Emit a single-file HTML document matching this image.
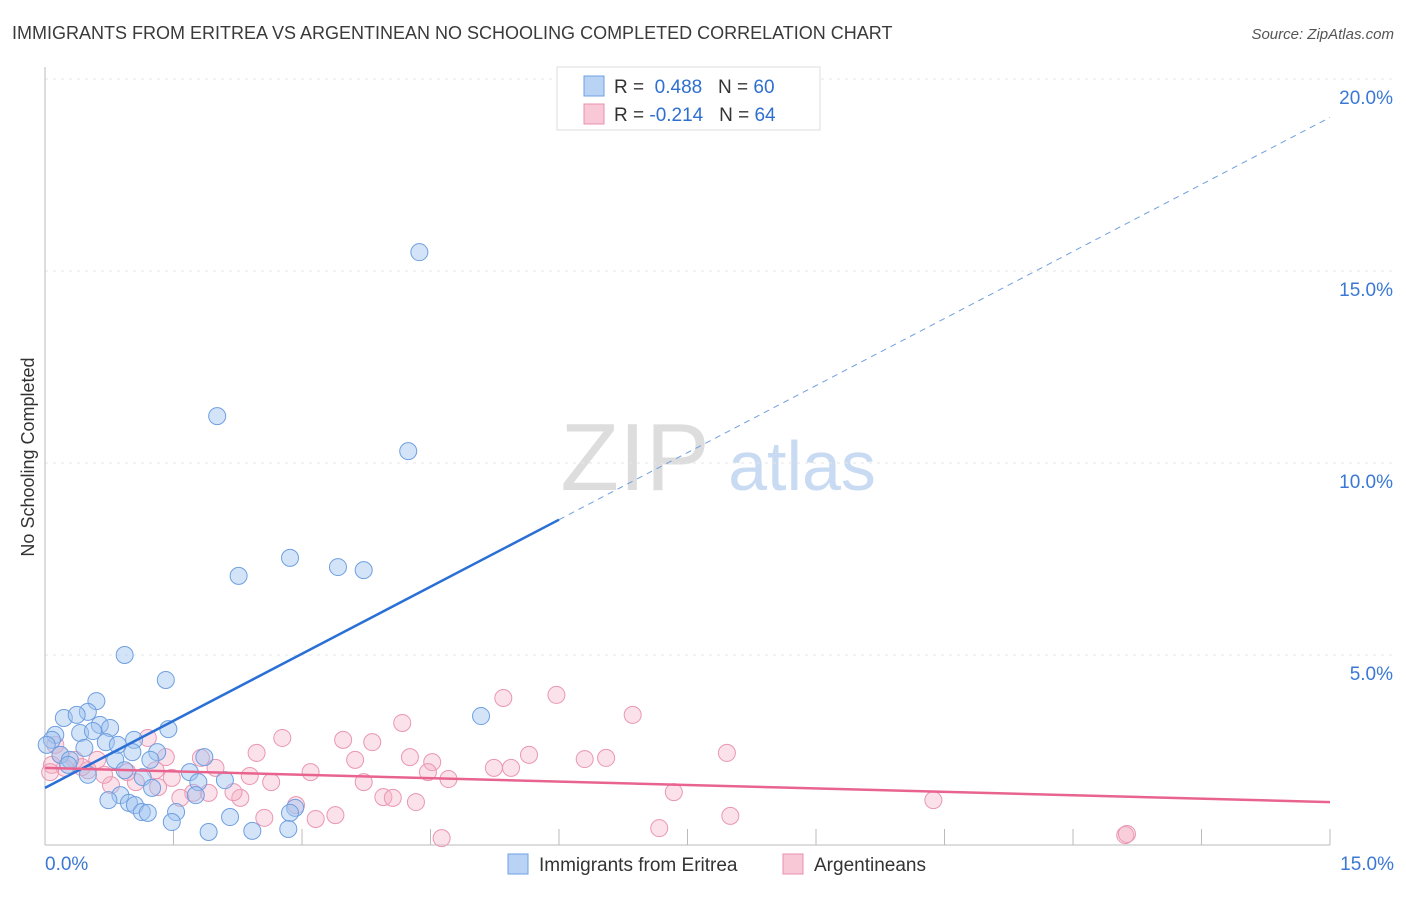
<!DOCTYPE html>
<html><head><meta charset="utf-8"><style>
body{margin:0;background:#fff;font-family:"Liberation Sans",sans-serif;}
svg text{font-family:"Liberation Sans",sans-serif;}
</style></head><body>
<svg id="c" width="1406" height="892">
<text x="12" y="39" font-size="18" fill="#3a3a3a">IMMIGRANTS FROM ERITREA VS ARGENTINEAN NO SCHOOLING COMPLETED CORRELATION CHART</text>
<text x="1394" y="39" font-size="15" fill="#555" font-style="italic" text-anchor="end">Source: ZipAtlas.com</text>
<text x="34" y="457" font-size="18" fill="#333" text-anchor="middle" transform="rotate(-90 34 457)">No Schooling Completed</text>
<g><text x="635" y="490" font-size="96" fill="#ddd" font-family="Liberation Serif" text-anchor="middle">ZIP</text><text x="802" y="490" font-size="70" fill="#c9dbf2" text-anchor="middle">atlas</text></g>
<g id="grid"></g><g id="marks"></g>
<g>
<rect x="557" y="67" width="263" height="63" fill="#fff" stroke="#ddd"/>
<rect x="584" y="76" width="20" height="20" fill="#b9d3f5" stroke="#6f9fe0"/>
<text x="614" y="93" font-size="19" fill="#333">R = <tspan fill="#2f6fd0">&#160;0.488</tspan>&#160;&#160;&#160;N = <tspan fill="#2f6fd0">60</tspan></text>
<rect x="584" y="104" width="20" height="20" fill="#f8c8d6" stroke="#e890ad"/>
<text x="614" y="121" font-size="19" fill="#333">R = <tspan fill="#2f6fd0">-0.214</tspan>&#160;&#160;&#160;N = <tspan fill="#2f6fd0">64</tspan></text>
</g>
<g>
<rect x="508" y="854" width="20" height="20" fill="#b9d3f5" stroke="#6f9fe0"/>
<text x="539" y="871" font-size="19" fill="#333">Immigrants from Eritrea</text>
<rect x="783" y="854" width="20" height="20" fill="#f8c8d6" stroke="#e890ad"/>
<text x="814" y="871" font-size="19" fill="#333">Argentineans</text>
</g>
</svg>
<script>
const yTicks=[5,10,15,20];
const yTickLabels=["5.0%","10.0%","15.0%","20.0%"];
const xTickVals=[1.5,3,4.5,6,7.5,9,10.5,12,13.5,15];
const xLabels=["0.0%","15.0%"];
const blueX=[4.37,2.01,4.24,2.86,2.26,3.42,3.72,0.93,1.41,5.09,0.60,0.22,0.50,0.37,0.64,0.76,1.44,0.12,0.41,0.56,1.04,0.71,0.85,0.08,0.46,1.31,1.02,0.18,0.29,0.82,1.23,1.86,0.27,0.93,1.69,1.14,0.50,2.10,1.79,1.25,0.88,0.74,1.76,0.98,1.05,1.13,1.20,2.92,2.86,1.53,1.48,2.16,1.91,2.42,2.84,0.02];
const blueY=[15.49,11.22,10.31,7.53,7.06,7.29,7.21,5.0,4.35,3.41,3.80,3.36,3.52,3.44,3.18,3.10,3.07,2.92,2.97,3.02,2.79,2.73,2.66,2.79,2.58,2.47,2.47,2.40,2.27,2.27,2.27,2.34,2.14,2.0,1.95,1.82,1.88,1.74,1.69,1.54,1.35,1.22,1.35,1.15,1.09,0.91,0.89,1.02,0.89,0.91,0.65,0.78,0.39,0.42,0.47,2.66];
const pinkX=[12.61,12.63,10.37,7.96,8.00,7.17,7.34,6.86,5.97,5.35,6.55,6.30,5.65,5.44,5.24,4.17,3.82,3.48,4.26,4.52,4.47,4.71,3.62,3.72,3.95,4.06,4.33,4.63,3.39,3.16,2.93,3.10,2.77,2.47,2.64,2.39,2.56,2.28,2.20,1.99,1.91,1.82,1.73,1.58,1.48,1.32,1.41,1.20,1.29,1.06,0.96,0.77,0.69,0.61,0.50,0.35,0.23,0.12,0.08,0.06,0.18,0.43];
const pinkY=[0.31,0.34,1.22,2.45,0.81,0.49,1.43,3.44,3.96,3.88,2.32,2.29,2.40,2.06,2.06,3.23,2.73,2.79,2.34,2.21,1.95,1.77,2.27,1.69,1.30,1.28,1.17,0.23,0.83,0.73,1.09,1.95,2.84,2.45,1.69,1.85,0.76,1.28,1.43,2.06,1.41,2.32,1.41,1.28,1.80,1.56,2.34,2.84,2.0,1.69,1.95,1.61,1.88,2.27,2.00,2.27,2.06,2.66,2.14,1.95,2.40,2.08];
const blueTrend=[1.54,19.0];
const pinkTrend=[2.06,1.17];
const NS="http://www.w3.org/2000/svg";
const X=v=>45+v/15*1285, Y=v=>847-v*38.4;
function mk(t,a,p){const e=document.createElementNS(NS,t);for(const k in a)e.setAttribute(k,a[k]);p.appendChild(e);return e;}
const g=document.getElementById('grid'),m=document.getElementById('marks');
yTicks.forEach((t,i)=>{
 const l=mk('line',{x1:45,x2:1394,y1:Y(t),y2:Y(t),stroke:'#e6e6e6','stroke-dasharray':'3,5'},g);
 
 
 const tx=mk('text',{x:1393,y:Y(t)+25,'font-size':19,fill:'#3a78d4','text-anchor':'end'},g);
 tx.textContent=yTickLabels[i];
 
 
});
mk('line',{x1:45,x2:45,y1:67,y2:845,stroke:'#bbb'},g);
mk('line',{x1:45,x2:1330,y1:845,y2:845,stroke:'#bbb'},g);
xTickVals.forEach(v=>{const l=mk('line',{x1:X(v),x2:X(v),y1:829,y2:845,stroke:'#bbb'},g);
 
 });
[[0,'start',45],[15,'end',1394]].forEach((a,i)=>{const t=mk('text',{x:a[2],y:870,'font-size':19,fill:'#3a78d4','text-anchor':a[1]},g);t.textContent=xLabels[i];
 
 });
pinkX.forEach((v,i)=>{const c=mk('circle',{cx:X(v),cy:Y(pinkY[i]),r:8.5,fill:'rgba(245,175,198,0.38)',stroke:'#ea97b3','stroke-width':1},m);
 
 });
blueX.forEach((v,i)=>{const c=mk('circle',{cx:X(v),cy:Y(blueY[i]),r:8.5,fill:'rgba(160,196,240,0.45)',stroke:'#6f9fe0','stroke-width':1},m);
 
 });
const bs=(blueTrend[1]-blueTrend[0])/15, xs=6.0;
const b1=mk('line',{x1:X(0),y1:Y(blueTrend[0]),x2:X(xs),y2:Y(blueTrend[0]+bs*xs),stroke:'#2a6fd6','stroke-width':2.5},m);


const b2=mk('line',{x1:X(xs),y1:Y(blueTrend[0]+bs*xs),x2:X(15),y2:Y(blueTrend[1]),stroke:'#6f9fe0','stroke-width':1,'stroke-dasharray':'6,5'},m);


const p1=mk('line',{x1:X(0),y1:Y(pinkTrend[0]),x2:X(15),y2:Y(pinkTrend[1]),stroke:'#e8648f','stroke-width':2.5},m);


</script>
</body></html>
